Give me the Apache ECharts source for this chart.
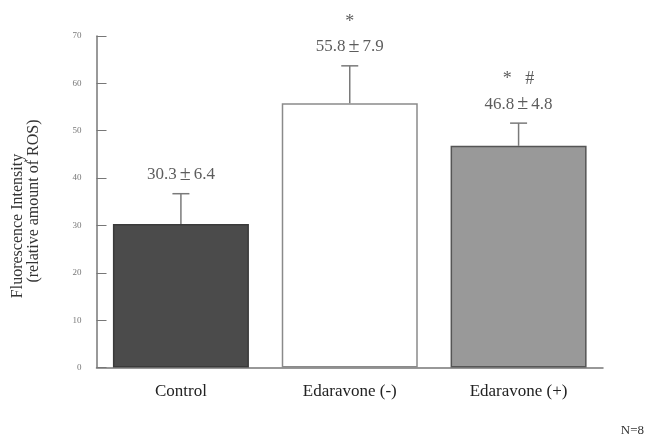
<!DOCTYPE html>
<html>
<head>
<meta charset="utf-8">
<script src="https://cdn.jsdelivr.net/npm/echarts@6/dist/echarts.min.js"></script>
<style>html,body{margin:0;padding:0;background:#fff}#c{width:652px;height:441px}</style>
</head>
<body>
<div id="c"></div>
<script>
const categories = ['Control', 'Edaravone (-)', 'Edaravone (+)'];
const means = [30.3, 55.8, 46.8];
const sds = [6.4, 7.9, 4.8];
const marks = ['', '*', '*   #'];
const yTicks = [0, 10, 20, 30, 40, 50, 60, 70];
const barColors = ['#4b4b4b', '#ffffff', '#999999'];
const barBorders = ['#3a3a3a', '#8a8a8a', '#555555'];

const FONT = '"Liberation Serif", "Times New Roman", serif';
const chart = echarts.init(document.getElementById('c'), null, {renderer: 'canvas'});

const errData = categories.map((c, i) => [i, means[i], means[i] + sds[i]]);
const labelData = categories.map((c, i) => ({
  value: [i, means[i] + sds[i]],
  mark: marks[i],
  m: means[i].toFixed(1),
  s: sds[i].toFixed(1)
}));

chart.setOption({
  animation: false,
  grid: {left: 96.5, right: 49, top: 36, bottom: 73.5},
  xAxis: {
    type: 'category',
    data: categories,
    axisLine: {lineStyle: {color: '#777', width: 1.5}},
    axisTick: {inside: true, length: 5, lineStyle: {color: '#777'}},
    axisLabel: {fontFamily: FONT, fontSize: 17, color: '#222', margin: 16}
  },
  yAxis: {
    type: 'value',
    min: yTicks[0], max: yTicks[yTicks.length - 1], interval: 10,
    splitLine: {show: false},
    axisLine: {show: true, lineStyle: {color: '#777', width: 1.5}},
    axisTick: {show: true, inside: true, length: 10, lineStyle: {color: '#777'}},
    axisLabel: {fontFamily: FONT, fontSize: 9, color: '#777', margin: 15}
  },
  graphic: [
    {type: 'text', x: 18, y: 226, rotation: Math.PI / 2,
     style: {text: 'Fluorescence Intensity', font: '16px ' + FONT, fill: '#333', align: 'center', verticalAlign: 'middle'}},
    {type: 'text', x: 34, y: 201, rotation: Math.PI / 2,
     style: {text: '(relative amount of ROS)', font: '16px ' + FONT, fill: '#333', align: 'center', verticalAlign: 'middle'}},
    {type: 'text', right: 8, top: 424,
     style: {text: 'N=8', font: '13px ' + FONT, fill: '#333'}}
  ],
  series: [
    {
      type: 'bar',
      barWidth: 136,
      data: means.map((v, i) => ({
        value: v,
        itemStyle: {color: barColors[i], borderColor: barBorders[i], borderWidth: 1.5}
      }))
    },
    {
      type: 'custom',
      data: errData,
      z: 5,
      renderItem: function (params, api) {
        const base = api.coord([api.value(0), api.value(1)]);
        const top = api.coord([api.value(0), api.value(2)]);
        const st = {stroke: '#7a7a7a', lineWidth: 1.5};
        return {
          type: 'group',
          children: [
            {type: 'line', shape: {x1: base[0], y1: base[1], x2: top[0], y2: top[1]}, style: st},
            {type: 'line', shape: {x1: top[0] - 8.5, y1: top[1], x2: top[0] + 8.5, y2: top[1]}, style: st}
          ]
        };
      }
    },
    {
      type: 'scatter',
      symbolSize: 0,
      data: labelData,
      z: 6,
      label: {
        show: true,
        position: 'top',
        distance: 9,
        formatter: function (p) {
          const d = labelData[p.dataIndex];
          return (d.mark ? '{s|' + d.mark + '}\n' : '') + '{v|' + d.m + '}{pm|±}{v|' + d.s + '}';
        },
        rich: {
          s: {fontFamily: FONT, fontSize: 18, color: '#333', lineHeight: 30},
          v: {fontFamily: FONT, fontSize: 17, color: '#333', lineHeight: 20},
          pm: {fontFamily: FONT, fontSize: 20, color: '#333', lineHeight: 20, padding: [0, 3]}
        }
      }
    }
  ]
});
</script>
</body>
</html>
